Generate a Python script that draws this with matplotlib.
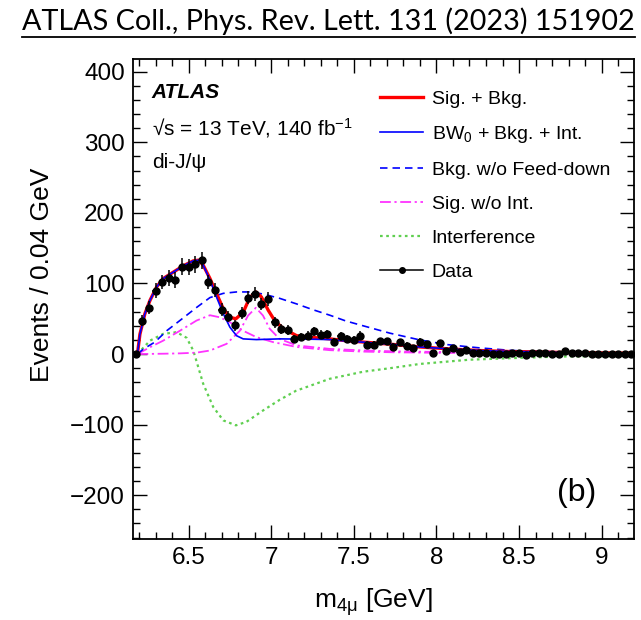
#!/usr/bin/env python3
"""
di-J/psi 4mu mass spectrum with fit components (ATLAS, PRL 131 (2023) 151902, panel b).
"""

import matplotlib
matplotlib.use("Agg")
import matplotlib.pyplot as plt
from matplotlib.lines import Line2D
from matplotlib.ticker import MultipleLocator

# ---- data ----
data_x = [6.18, 6.22, 6.26, 6.30, 6.34, 6.38, 6.42, 6.46, 6.50, 6.54,
          6.58, 6.62, 6.66, 6.70, 6.74, 6.78, 6.82, 6.86, 6.90, 6.94,
          6.98, 7.02, 7.06, 7.10, 7.14, 7.18, 7.22, 7.26, 7.30, 7.34,
          7.38, 7.42, 7.46, 7.50, 7.54, 7.58, 7.62, 7.66, 7.70, 7.74,
          7.78, 7.82, 7.86, 7.90, 7.94, 7.98, 8.02, 8.06, 8.10, 8.14,
          8.18, 8.22, 8.26, 8.30, 8.34, 8.38, 8.42, 8.46, 8.50, 8.54,
          8.58, 8.62, 8.66, 8.70, 8.74, 8.78, 8.82, 8.86, 8.90, 8.94,
          8.98, 9.02, 9.06, 9.10, 9.14, 9.18]
data_y = [0, 47.5, 65.5, 90, 102, 108, 105, 124, 123, 127,
          133, 102, 91, 63, 53, 40.5, 58, 80, 85.5, 71,
          78, 45, 36, 34, 21.5, 24, 26, 32, 27.7, 28.7,
          17, 25, 21.5, 20, 26, 13.5, 13.5, 18, 18, 10.6,
          17, 12, 8, 17.7, 14.5, 1.7, 15.4, 4, 8, 2.6,
          6, 1.7, 1.7, 1.7, 0, 0.5, 0.5, 1.7, 1.7, -1,
          1.7, 1.7, 1, 0.5, 0, 4, 1.7, 1, 1, 0.5,
          0, 0, 0.5, 0.5, 0.5, 0.5]
data_err = [1, 8, 9, 10, 10.5, 11, 11, 11.5, 11.5, 12,
            12, 10.5, 10, 9, 8, 7.5, 8.5, 9.5, 10, 9,
            9.5, 7.5, 7, 6.5, 6, 6, 6, 6.5, 6, 6,
            5.5, 6, 5.5, 5.5, 6, 5, 5, 5, 5, 4.5,
            5, 4.5, 4, 5, 4.5, 3.5, 4.5, 3.5, 4, 3.5,
            3.5, 3, 3, 3, 3, 3, 3, 3, 3, 3,
            3, 3, 3, 3, 3, 3, 3, 3, 3, 3,
            3, 3, 3, 3, 3, 3]
bin_half_width = 0.02

# Sig. + Bkg.
sigbkg_x = [6.19, 6.205, 6.235, 6.266, 6.306, 6.346, 6.407, 6.467, 6.528, 6.56,
            6.588, 6.629, 6.67, 6.71, 6.75, 6.786, 6.83, 6.87, 6.907, 6.94,
            6.982, 7.022, 7.073, 7.154, 7.25, 7.355, 7.45, 7.557, 7.72, 7.9,
            8.1, 8.26, 8.45, 8.66, 8.9, 9.2]
sigbkg_y = [0, 28, 57, 76, 95, 107, 116, 125, 132, 133,
            126, 107, 85, 64, 52, 50, 59, 80, 88, 81,
            62, 47, 36, 26, 23.5, 21.5, 19, 17, 14, 10,
            7, 5, 3.5, 2.6, 1.8, 1.2]

# BW0 + Bkg. + Int.
bw0_x = [6.19, 6.205, 6.235, 6.266, 6.306, 6.346, 6.407, 6.467, 6.528, 6.56,
         6.588, 6.629, 6.67, 6.71, 6.75, 6.79, 6.83, 6.91, 7.05, 7.25,
         7.355, 7.45, 7.557, 7.72, 7.9, 8.1, 8.26, 8.45, 8.66, 8.9,
         9.2]
bw0_y = [0, 28, 57, 76, 95, 107, 116, 125, 132, 133,
         126, 105, 80, 57, 38, 26, 21.5, 20.5, 21.5, 21,
         20.5, 18.5, 16.8, 14, 10, 7, 5, 3.5, 2.6, 1.8,
         1.2]

# Bkg. w/o Feed-down
bkg_x = [6.19, 6.225, 6.296, 6.367, 6.447, 6.548, 6.629, 6.71, 6.79, 6.87,
         6.952, 7.05, 7.154, 7.25, 7.355, 7.45, 7.557, 7.72, 7.9, 8.06,
         8.25, 8.46, 8.66, 8.86, 9.0, 9.2]
bkg_y = [0, 7, 17, 33, 47.5, 66, 80, 86, 88, 88,
         85, 79, 71, 63, 55, 47, 40, 29.5, 20, 13.5,
         9, 5, 3.5, 2.6, 2, 1.3]

# Sig. w/o Int. (two resonance components)
sig0_x = [6.19, 6.266, 6.346, 6.447, 6.548, 6.629, 6.69, 6.75, 6.83, 6.91,
          7.01, 7.154, 7.355, 7.55, 7.72, 8.0, 8.5, 9.2]
sig0_y = [0, 9.7, 19, 33, 47.5, 55, 52, 45, 33, 24,
          17, 10, 5.5, 3.5, 2.6, 1.8, 1, 0.5]
sig1_x = [6.19, 6.35, 6.45, 6.548, 6.629, 6.73, 6.81, 6.86, 6.907, 6.95,
          6.99, 7.05, 7.154, 7.355, 7.55, 7.72, 8.0, 8.5, 9.2]
sig1_y = [0, 0.5, 1, 2, 5, 14.5, 33, 54.6, 65.6, 54.6,
          36, 21.5, 12.2, 7.3, 5.2, 4, 3, 1.8, 0.8]

# Interference
int_x = [6.19, 6.266, 6.346, 6.427, 6.488, 6.528, 6.55, 6.588, 6.649, 6.71,
         6.786, 6.85, 6.95, 7.05, 7.15, 7.355, 7.557, 7.72, 7.9, 8.2,
         8.5, 8.75, 9.0, 9.2]
int_y = [0, 19, 28.6, 31, 23, 5, -12, -42, -75, -94,
         -101, -96, -80, -65, -52, -35, -25, -20, -14, -8,
         -5.4, -3.5, -3, -2.5]

RED = "#ff0000"
BLUE = "#0000ff"
MAGENTA = "#ff33ff"
GREEN = "#5fcf50"

DASHED = (0, (4.5, 3))
DASHDOT = (0, (6, 2, 1.2, 2))
DOTTED = (0, (1.2, 1.6))


def main() -> None:
    plt.rcParams["font.family"] = ["Liberation Sans", "DejaVu Sans"]
    plt.rcParams["mathtext.fontset"] = "custom"
    plt.rcParams["mathtext.rm"] = "Liberation Sans"
    plt.rcParams["mathtext.it"] = "Liberation Sans:italic"

    fig = plt.figure(figsize=(6.41, 6.20), dpi=100)
    ax = fig.add_axes([133.3 / 641, 81 / 620, 500.7 / 641, 480 / 620])

    ax.plot(int_x, int_y, color=GREEN, lw=1.6, ls=DOTTED, zorder=2)
    ax.plot(sig0_x, sig0_y, color=MAGENTA, lw=1.3, ls=DASHDOT, zorder=2)
    ax.plot(sig1_x, sig1_y, color=MAGENTA, lw=1.3, ls=DASHDOT, zorder=2)
    ax.plot(bkg_x, bkg_y, color=BLUE, lw=1.2, ls=DASHED, zorder=3)
    ax.plot(sigbkg_x, sigbkg_y, color=RED, lw=2.4, zorder=4)
    ax.plot(bw0_x, bw0_y, color=BLUE, lw=1.2, zorder=5)
    ax.errorbar(data_x, data_y, yerr=data_err, xerr=bin_half_width, fmt="o",
                color="black", ms=5, lw=1.1, capsize=0, zorder=6)

    ax.set_xlim(6.165, 9.196)
    ax.set_ylim(-262, 418)
    ax.xaxis.set_minor_locator(MultipleLocator(0.1))
    ax.yaxis.set_major_locator(MultipleLocator(100))
    ax.yaxis.set_minor_locator(MultipleLocator(20))
    ax.set_xticks([6.5, 7, 7.5, 8, 8.5, 9])
    ax.set_xticklabels(["6.5", "7", "7.5", "8", "8.5", "9"])
    ax.tick_params(which="both", direction="in", top=True, right=True,
                   width=1.0, labelsize=17.5)
    ax.tick_params(which="major", length=10, pad=6)
    ax.tick_params(which="minor", length=5)
    for sp in ax.spines.values():
        sp.set_linewidth(1.3)

    ax.set_ylabel("Events / 0.04 GeV", fontsize=19)
    ax.yaxis.set_label_coords(-0.158, 0.55)
    ax.set_xlabel(r"m$_{\mathrm{4μ}}$ [GeV]", fontsize=19)
    ax.xaxis.set_label_coords(0.48, -0.098)

    ax.text(0.037, 0.93, "ATLAS", transform=ax.transAxes, fontsize=15,
            fontweight="bold", fontstyle="italic", va="center")
    ax.text(0.037, 0.856, "√s = 13 TeV, 140 fb$^{-1}$", transform=ax.transAxes,
            fontsize=15, va="center")
    ax.text(0.037, 0.785, "di-J/ψ", transform=ax.transAxes, fontsize=15,
            va="center")
    ax.text(0.886, 0.095, "(b)", transform=ax.transAxes, fontsize=23,
            ha="center", va="center")

    handles = [
        Line2D([0], [0], color=RED, lw=2.4),
        Line2D([0], [0], color=BLUE, lw=1.2),
        Line2D([0], [0], color=BLUE, lw=1.2, ls=DASHED),
        Line2D([0], [0], color=MAGENTA, lw=1.3, ls=DASHDOT),
        Line2D([0], [0], color=GREEN, lw=1.6, ls=DOTTED),
        Line2D([0], [0], color="black", lw=1.1, marker="o", ms=4),
    ]
    labels = ["Sig. + Bkg.", r"BW$_0$ + Bkg. + Int.", "Bkg. w/o Feed-down",
              "Sig. w/o Int.", "Interference", "Data"]
    ax.legend(handles, labels, loc="upper left", bbox_to_anchor=(0.493, 0.935),
              frameon=False, fontsize=14, borderpad=0, borderaxespad=0,
              labelspacing=0.84, handlelength=2.2, handletextpad=0.45)

    title = fig.text(0.513, 0.988, "ATLAS Coll., Phys. Rev. Lett. 131 (2023) 151902",
                     fontsize=20.7, family=["Lato", "DejaVu Sans"],
                     ha="center", va="top")
    fig.canvas.draw()
    bb = title.get_window_extent().transformed(fig.transFigure.inverted())
    fig.add_artist(Line2D([bb.x0, bb.x1], [bb.y0 - 0.003, bb.y0 - 0.003],
                          color="black", lw=1.3, transform=fig.transFigure))

    fig.savefig("out.png", dpi=100)
    plt.close(fig)


if __name__ == "__main__":
    main()
